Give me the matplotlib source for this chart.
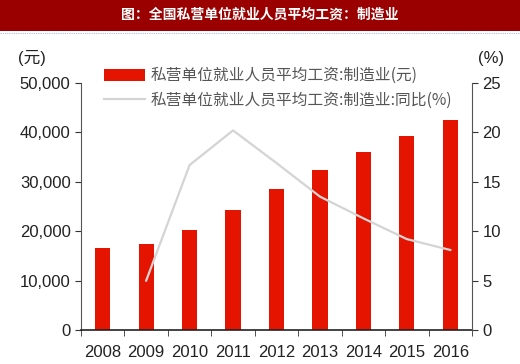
import matplotlib.pyplot as plt
from matplotlib.patches import Rectangle
from matplotlib.lines import Line2D
from matplotlib.ticker import FuncFormatter

plt.rcParams['font.family'] = ['Liberation Sans', 'Noto Sans CJK SC', 'DejaVu Sans']

years = ["2008", "2009", "2010", "2011", "2012", "2013", "2014", "2015", "2016"]
wage = [16700, 17500, 20300, 24350, 28500, 32400, 36000, 39300, 42450]
yoy_years = ["2009", "2010", "2011", "2012", "2013", "2014", "2015", "2016"]
yoy = [5.0, 16.7, 20.2, 16.9, 13.5, 11.3, 9.2, 8.1]

title = "图：全国私营单位就业人员平均工资：制造业"
label_bar = "私营单位就业人员平均工资:制造业(元)"
label_line = "私营单位就业人员平均工资:制造业:同比(%)"

red = "#e51400"
grey_line = "#d4d4d4"
text_col = "#222222"

fig = plt.figure(figsize=(5.2, 3.64), dpi=100)

# title band
fig.patches.append(Rectangle((0, 1 - 31 / 364), 1, 31 / 364, transform=fig.transFigure,
                             facecolor="#9b0000", edgecolor="none"))
fig.add_artist(Line2D([0, 1], [1 - 32.5 / 364] * 2, transform=fig.transFigure,
                      color="#9cc3e6", lw=0.8, ls=(0, (1, 1))))
fig.text(0.5, 1 - 15 / 364, title, color="white", fontsize=10, fontweight="bold",
         ha="center", va="center", family=['Noto Sans CJK SC', 'DejaVu Sans'])

ax = fig.add_axes([81 / 520, 1 - 330 / 364, (472 - 81) / 520, (330 - 83) / 364])
x = list(range(len(years)))
bars = ax.bar(x, wage, width=0.35, color=red, zorder=2, label=label_bar)
ax.set_xlim(-0.5, len(years) - 0.5)
ax.set_ylim(0, 50000)
ax.set_yticks(range(0, 50001, 10000))
ax.yaxis.set_major_formatter(FuncFormatter(lambda v, p: "{:,.0f}".format(v)))
ax.set_xticks(x)
ax.set_xticklabels(years)
ax.set_xticks([i - 0.5 for i in range(len(years) + 1)], minor=True)
ax.tick_params(axis="x", which="major", length=0, pad=11, labelsize=12, colors=text_col)
ax.tick_params(axis="x", which="minor", length=4, color="#333333", direction="out")
ax.tick_params(axis="y", length=4, direction="out", labelsize=12, colors=text_col, color="#333333")
ax.spines["top"].set_visible(False)
ax.spines["right"].set_visible(False)
ax.spines["left"].set_color("#555555")
ax.spines["bottom"].set_color("#222222")
ax.spines["bottom"].set_linewidth(1.2)

ax2 = ax.twinx()
xi = [years.index(y) for y in yoy_years]
line, = ax2.plot(xi, yoy, color=grey_line, lw=1.6, zorder=3, label=label_line)
ax2.set_ylim(0, 25)
ax2.set_yticks(range(0, 26, 5))
ax2.tick_params(axis="y", length=4, direction="out", labelsize=12, colors=text_col, color="#333333")
ax2.spines["top"].set_visible(False)
ax2.spines["left"].set_visible(False)
ax2.spines["bottom"].set_visible(False)
ax2.spines["right"].set_color("#555555")

fig.text(18 / 520, 1 - 58 / 364, "(元)", fontsize=12, color=text_col, va="center",
         family=['Liberation Sans', 'Noto Sans CJK SC'])
fig.text(478 / 520, 1 - 58 / 364, "(%)", fontsize=12, color=text_col, va="center")

leg = fig.legend([bars, line], [label_bar, label_line], loc="upper left",
                 bbox_to_anchor=(104 / 520, 1 - 67 / 364), frameon=False,
                 handlelength=2.6, handleheight=0.8, labelspacing=0.5, handletextpad=0.35,
                 borderaxespad=0, borderpad=0,
                 prop={'family': ['Noto Sans CJK SC', 'DejaVu Sans'], 'size': 11.3})
for t in leg.get_texts():
    t.set_color("#555555")

fig.savefig("out.png", dpi=100)
